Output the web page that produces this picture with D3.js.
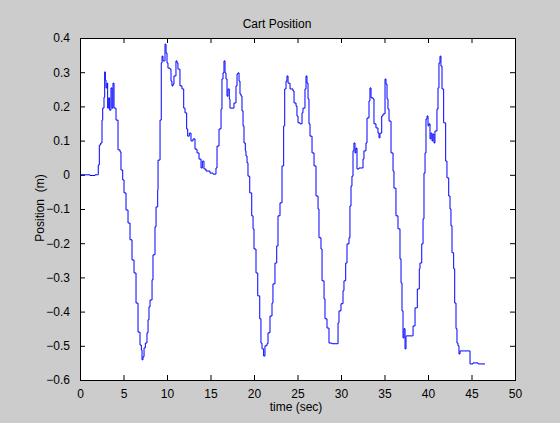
<!DOCTYPE html>
<html><head><meta charset="utf-8">
<script src="https://cdn.jsdelivr.net/npm/d3@7"></script>
<style>
html,body{margin:0;padding:0;background:#fff;}
svg{display:block;font-family:"Liberation Sans",Arial,sans-serif;}
</style></head>
<body>
<script>
// time (sec)
const time = [0,0.57,1.15,1.72,1.99,2.10,2.22,2.38,2.53,2.61,2.76,2.84,2.91,2.99,3.10,3.18,3.30,3.41,3.56,3.68,3.79,3.91,4.14,4.37,4.60,4.71,4.91,5.06,5.29,5.52,5.75,5.98,6.21,6.44,6.67,6.90,7.05,7.13,7.24,7.36,7.51,7.70,7.82,7.93,8.05,8.28,8.39,8.62,8.74,8.93,8.97,9.20,9.34,9.43,9.54,9.77,9.89,10.00,10.11,10.34,10.46,10.57,10.69,10.80,11.03,11.15,11.26,11.49,11.72,11.92,12.07,12.26,12.38,12.56,12.76,12.99,13.22,13.45,13.68,13.91,14.06,14.25,14.48,14.94,15.29,15.63,15.75,15.98,16.21,16.32,16.44,16.55,16.67,16.78,16.90,17.01,17.16,17.24,17.59,17.70,17.93,18.05,18.16,18.28,18.39,18.51,18.62,18.74,18.85,19.00,19.08,19.20,19.31,19.51,19.74,19.89,20.00,20.23,20.43,20.66,20.80,20.92,21.11,21.26,21.49,21.61,21.84,22.07,22.18,22.41,22.61,22.76,22.99,23.22,23.41,23.53,23.68,23.79,23.91,24.14,24.48,24.60,24.83,24.94,25.06,25.29,25.52,25.63,25.86,25.98,26.09,26.21,26.32,26.44,26.67,26.90,27.13,27.36,27.47,27.70,27.82,28.05,28.16,28.39,28.62,28.97,29.54,29.66,29.77,30.00,30.23,30.34,30.54,30.69,30.92,31.03,31.15,31.26,31.38,31.49,31.61,31.72,31.84,32.07,32.41,32.53,32.64,32.87,32.99,33.22,33.33,33.45,33.68,33.79,34.02,34.25,34.37,34.48,34.68,34.83,35.06,35.17,35.29,35.40,35.52,35.75,35.98,36.09,36.32,36.55,36.78,36.90,37.01,37.13,37.24,37.36,37.47,37.55,38.24,38.28,38.51,38.77,39.00,39.08,39.28,39.43,39.54,39.66,39.77,39.89,40.00,40.11,40.23,40.34,40.46,40.57,40.69,40.80,41.03,41.15,41.26,41.38,41.49,41.61,41.80,42.03,42.18,42.38,42.53,42.64,42.76,42.95,43.07,43.22,43.33,43.45,43.56,43.68,44.02,44.71,44.83,45.17,45.75,46.55];
// cart position (m)
const position = [0,0,-0.002,0,0,0.029,0.087,0.093,0.160,0.195,0.227,0.301,0.277,0.254,0.268,0.195,0.225,0.189,0.254,0.195,0.268,0.195,0.160,0.073,0.067,0.014,-0.015,-0.053,-0.103,-0.141,-0.190,-0.249,-0.287,-0.375,-0.460,-0.498,-0.512,-0.541,-0.532,-0.506,-0.492,-0.462,-0.424,-0.386,-0.366,-0.307,-0.234,-0.152,-0.094,-0.044,0.043,0.160,0.327,0.347,0.333,0.382,0.356,0.327,0.312,0.309,0.274,0.260,0.265,0.289,0.333,0.327,0.309,0.260,0.251,0.195,0.181,0.134,0.113,0.122,0.099,0.105,0.075,0.064,0.046,0.020,0.040,0.017,0.011,0.005,0.002,0.020,0.084,0.134,0.192,0.280,0.298,0.333,0.298,0.280,0.230,0.251,0.222,0.195,0.195,0.210,0.260,0.295,0.298,0.274,0.236,0.230,0.187,0.143,0.093,0.070,0.055,0.035,-0.004,-0.053,-0.120,-0.158,-0.217,-0.287,-0.354,-0.421,-0.492,-0.509,-0.530,-0.500,-0.494,-0.462,-0.413,-0.375,-0.319,-0.258,-0.208,-0.120,-0.082,0.026,0.143,0.251,0.274,0.289,0.268,0.251,0.245,0.210,0.201,0.172,0.152,0.149,0.181,0.195,0.251,0.289,0.268,0.222,0.149,0.113,0.064,0.026,-0.062,-0.100,-0.184,-0.217,-0.310,-0.363,-0.421,-0.448,-0.492,-0.494,-0.494,-0.433,-0.398,-0.377,-0.339,-0.310,-0.258,-0.202,-0.184,-0.091,-0.033,-0.004,0.070,0.093,0.064,0.078,0.017,0.020,0.020,0.046,0.070,0.093,0.166,0.216,0.254,0.225,0.222,0.149,0.137,0.122,0.108,0.122,0.172,0.178,0.280,0.265,0.222,0.192,0.157,0.064,0.011,-0.039,-0.120,-0.158,-0.246,-0.316,-0.398,-0.477,-0.450,-0.509,-0.471,-0.471,-0.471,-0.442,-0.389,-0.334,-0.275,-0.258,-0.202,-0.129,0.005,0.064,0.163,0.172,0.143,0.149,0.105,0.122,0.099,0.119,0.093,0.128,0.192,0.254,0.327,0.347,0.318,0.251,0.152,0.040,-0.009,-0.062,-0.100,-0.149,-0.228,-0.275,-0.375,-0.450,-0.492,-0.500,-0.524,-0.515,-0.515,-0.515,-0.553,-0.550,-0.553,-0.553];
const xTicks = [0,5,10,15,20,25,30,35,40,45,50];
const yTicks = [-0.6,-0.5,-0.4,-0.3,-0.2,-0.1,0,0.1,0.2,0.3,0.4];
const titleText = "Cart Position";
const xLabel = "time (sec)";
const yLabel = "Position  (m)";

const W = 560, H = 423;
const L = 80, R = 515, T = 38, B = 380;
const svg = d3.select("body").append("svg").attr("width", W).attr("height", H);
svg.append("rect").attr("width", W).attr("height", H).attr("fill", "#cccccc");
svg.append("rect").attr("x", L).attr("y", T).attr("width", R - L).attr("height", B - T).attr("fill", "#ffffff");

const x = d3.scaleLinear().domain([0, 50]).range([L, R]);
const y = d3.scaleLinear().domain([-0.6, 0.4]).range([B, T]);

const fmtY = d => (Math.abs(d) < 1e-9 ? "0" : d3.format(".1f")(d));

const styleAxis = (g) => {
  g.select(".domain").remove();
  g.selectAll(".tick line").attr("stroke", "#000").attr("stroke-width", 1);
  g.selectAll(".tick text").attr("fill", "#000").attr("font-size", 12)
   .attr("font-family", "'Liberation Sans', Arial, sans-serif");
};

// bottom axis (ticks pointing inward)
const gx = svg.append("g").attr("transform", `translate(0,${B})`)
  .call(d3.axisBottom(x).tickValues(xTicks).tickSizeInner(-5).tickSizeOuter(0).tickPadding(9).tickFormat(d3.format("d")));
styleAxis(gx);
// top axis ticks
const gxt = svg.append("g").attr("transform", `translate(0,${T})`)
  .call(d3.axisTop(x).tickValues(xTicks).tickSizeInner(-5).tickSizeOuter(0).tickFormat(""));
styleAxis(gxt);
// left axis
const gy = svg.append("g").attr("transform", `translate(${L},0)`)
  .call(d3.axisLeft(y).tickValues(yTicks).tickSizeInner(-5).tickSizeOuter(0).tickPadding(10).tickFormat(fmtY));
styleAxis(gy);
// right axis ticks
const gyr = svg.append("g").attr("transform", `translate(${R},0)`)
  .call(d3.axisRight(y).tickValues(yTicks).tickSizeInner(-5).tickSizeOuter(0).tickFormat(""));
styleAxis(gyr);

// data line (sampled signal, drawn as steps)
const data = time.map((t, i) => ({t, v: position[i]}));
svg.append("path").datum(data)
  .attr("fill", "none").attr("stroke", "#0000ff").attr("stroke-width", 1)
  .attr("d", d3.line().curve(d3.curveStepAfter).x(d => x(d.t)).y(d => y(d.v)));

// box
svg.append("rect").attr("x", L + 0.5).attr("y", T + 0.5).attr("width", R - L).attr("height", B - T)
  .attr("fill", "none").attr("stroke", "#000").attr("stroke-width", 1);

// texts
svg.append("text").attr("x", 277).attr("y", 28).attr("text-anchor", "middle")
  .attr("font-size", 12).attr("fill", "#000").text(titleText);
svg.append("text").attr("x", 296).attr("y", 411).attr("text-anchor", "middle")
  .attr("font-size", 12).attr("fill", "#000").text(xLabel);
svg.append("text").attr("transform", "translate(44,208) rotate(-90)").attr("text-anchor", "middle")
  .attr("font-size", 12).attr("fill", "#000").style("white-space", "pre").text(yLabel);
</script>
</body></html>
